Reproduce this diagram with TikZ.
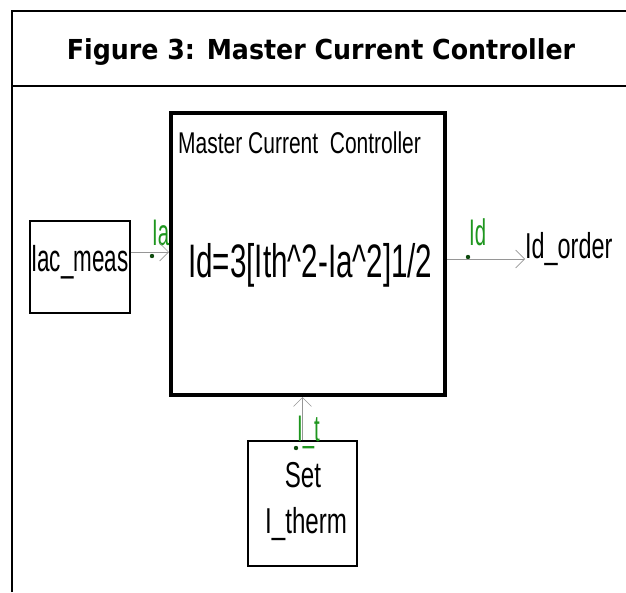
\documentclass[tikz,border=0pt]{standalone}
\usepackage{fontspec}
\usepackage{graphicx}
\setmainfont{Liberation Sans}
\newfontfamily\titlefont{DejaVu Sans}
\usetikzlibrary{arrows.meta}
\definecolor{lblgreen}{RGB}{30,150,30}
\definecolor{wiregray}{RGB}{150,150,150}
\newcommand{\nar}[2][0.62]{\scalebox{#1}[1]{#2}}

\begin{document}
\begin{tikzpicture}[x=1pt, y=-1pt, >={Straight Barb[length=9pt,width=18pt]},
  blk/.style={draw, line width=1.3pt, inner sep=0pt},
  txt/.style={inner sep=0pt, anchor=base west},
  tag/.style={inner sep=0pt, anchor=base west, text=lblgreen, font=\fontsize{37}{38}\selectfont},
  wire/.style={draw=wiregray, line width=0.6pt}]
  \useasboundingbox (0,0) rectangle (626,592);
  % frame and title
  \draw[line width=1.3pt] (12,592) -- (12,11) -- (640,11);
  \draw[line width=1.3pt] (12,86) -- (640,86);
  \node[inner sep=0pt, anchor=base] (title) at (321,59)
    {\titlefont\bfseries\fontsize{27.5}{30}\selectfont\nar[0.92]{Figure 3: Master Current Controller}};
  % blocks
  \node[blk, line width=4pt, minimum width=274pt, minimum height=282pt] (mcc) at (308,254) {};
  \node[blk, minimum width=100pt, minimum height=92pt] (iac) at (80,267) {};
  \node[blk, minimum width=109pt, minimum height=125pt] (set) at (302.5,503.5) {};
  % texts
  \node[txt, font=\fontsize{30}{32}\selectfont] (mcctitle) at (178,153) {\nar[0.7]{Master Current~ Controller}};
  \node[txt, font=\fontsize{47}{50}\selectfont] (formula) at (188,277) {\nar[0.63]{Id=3[Ith\^{}2-Ia\^{}2]1/2}};
  \node[txt, font=\fontsize{38}{40}\selectfont] (iactxt) at (31,271) {\nar[0.59]{Iac\_meas}};
  \node[txt, font=\fontsize{36}{38}\selectfont] (idorder) at (525,258) {\nar[0.65]{Id\_order}};
  \node[inner sep=0pt, anchor=base, font=\fontsize{36}{38}\selectfont] (settxt) at (303,487) {\nar[0.67]{Set}};
  \node[txt, font=\fontsize{36}{38}\selectfont] (ithtxt) at (265,533) {\nar[0.67]{I\_therm}};
  % green port tags
  \node[tag] (ia) at (152,245) {\nar[0.55]{Ia}};
  \node[tag] (id) at (469,245) {\nar[0.55]{Id}};
  \node[tag] (it) at (297,441) {\nar[0.55]{I\_t}};
  \fill[lblgreen!50!black] (152,256) circle (2.2);
  \fill[lblgreen!50!black] (468,257) circle (2.2);
  \fill[lblgreen!50!black] (296,448) circle (2.2);
  % wires
  \draw[wire, ->] ([yshift=15pt]iac.east) -- ([yshift=15pt]iac.east -| mcc.west);
  \draw[wire, ->] ([yshift=-5pt]mcc.east) -- ([yshift=-5pt]mcc.east -| idorder.west);
  \draw[wire, ->] (set.north) -- (set.north |- mcc.south);
\end{tikzpicture}
\end{document}
